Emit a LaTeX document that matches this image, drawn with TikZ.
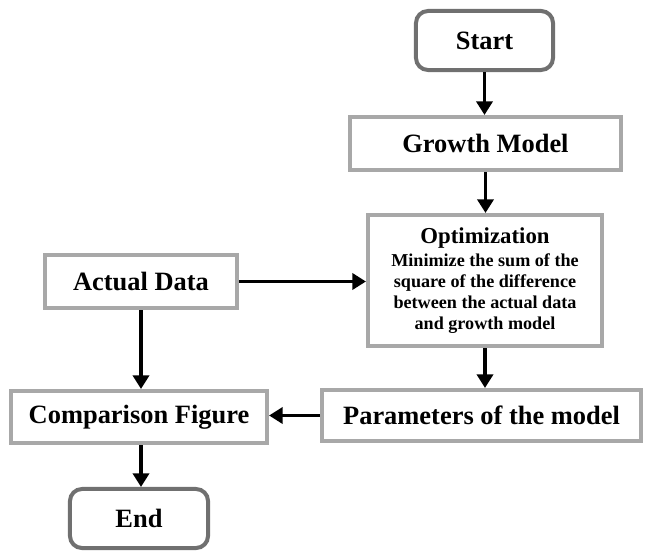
\documentclass[tikz,border=0pt]{standalone}
\usepackage{fontspec}
\setmainfont{Liberation Serif}
\usepackage{tikz}
\usetikzlibrary{arrows.meta, calc}
\definecolor{boxgray}{HTML}{A8A8A8}
\definecolor{termgray}{HTML}{707070}
\tikzset{
    stepbox/.style={draw=boxgray, line width=0.1cm, fill=white, inner sep=0pt,
        font=\bfseries\fontsize{18.8}{22}\selectfont},
    termbox/.style={draw=termgray, line width=0.1cm, rounded corners=0.3cm, fill=white,
        inner sep=0pt, font=\bfseries\fontsize{18.8}{22}\selectfont},
    flow/.style={line width=0.095cm, ->, >={Triangle[length=0.34cm, width=0.4cm]}}
}

\begin{document}
\begin{tikzpicture}[x=0.025cm, y=-0.025cm]
    \useasboundingbox (0,0) rectangle (649,551);

    % main column
    \node[termbox, minimum width=3.425cm, minimum height=1.475cm] (start) at (484.5,40.5) {Start};
    \node[stepbox, minimum width=6.775cm, minimum height=1.325cm] (growth) at (485.5,143.5) {Growth Model};
    \node[stepbox, minimum width=5.85cm, minimum height=3.275cm, align=center,
        font=\bfseries\fontsize{12.9}{14.9}\selectfont] (optim) at (485,280.5)
        {{\fontsize{16.2}{16}\selectfont Optimization}\\[1.5pt]
         Minimize the sum of the\\
         square of the difference\\
         between the actual data\\
         and growth model};
    \node[stepbox, minimum width=7.975cm, minimum height=1.275cm] (params) at (481.5,415.5) {Parameters of the model};

    % left column
    \node[stepbox, minimum width=4.8cm, minimum height=1.325cm] (actual) at (141,281.5) {Actual Data};
    \node[stepbox, minimum width=6.4cm, minimum height=1.3cm] (compare) at (139,417) {Comparison Figure};
    \node[termbox, minimum width=3.45cm, minimum height=1.475cm] (end) at (139,518.5) {End};

    % connectors
    \draw[flow] (start.south) -- (start.south |- growth.north);
    \draw[flow] (growth.south) -- (growth.south |- optim.north);
    \draw[flow] (actual.east) -- (actual.east -| optim.west);
    \draw[flow] (optim.south) -- (optim.south |- params.north);
    \draw[flow] (actual.south) -- (actual.south |- compare.north);
    \draw[flow] (params.west) -- (params.west -| compare.east);
    \draw[flow] (compare.south -| actual.south) -- (end.north -| actual.south);
\end{tikzpicture}
\end{document}
